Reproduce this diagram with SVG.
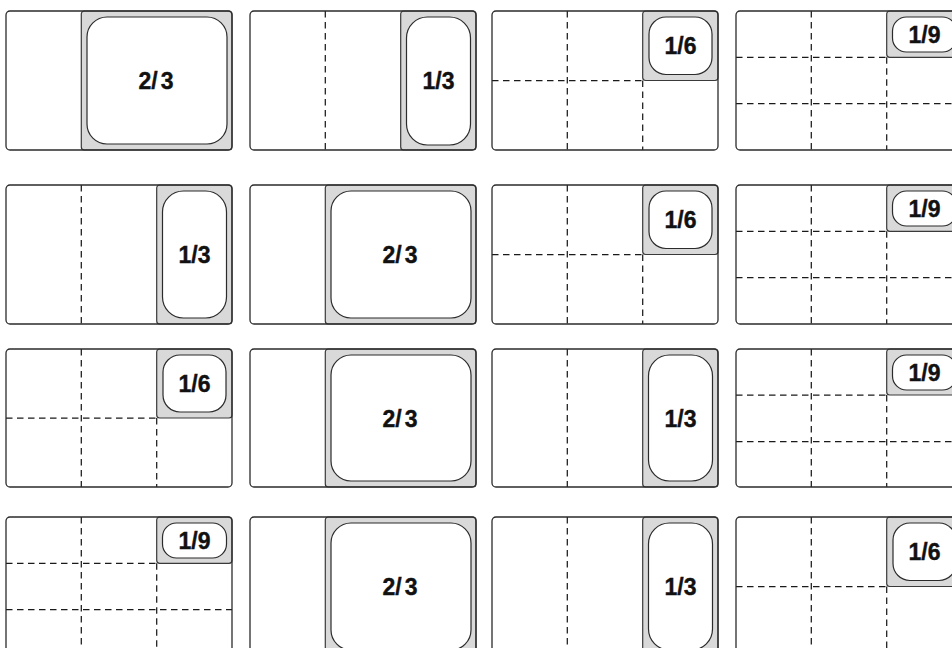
<svg xmlns="http://www.w3.org/2000/svg" width="952" height="648" viewBox="0 0 952 648">
<style>
.bg{fill:#fff}
.cell{fill:#fff;stroke:none}
.frame{fill:none;stroke:#2b2b2b;stroke-width:1.3}
.dash{fill:none;stroke:#1a1a1a;stroke-width:1.25;stroke-dasharray:6.5 4.5}
.pan{fill:#d9d9d9;stroke:#3a3a3a;stroke-width:1.2}
.well{fill:#fff;stroke:#2b2b2b;stroke-width:1.2}
.lbl{font-family:"Liberation Sans",Arial,sans-serif;font-weight:bold;font-size:23px;fill:#111;stroke:#111;stroke-width:0.4;text-anchor:middle}
</style>
<rect class="bg" width="952" height="648"/>

<!-- Row 1 -->
<g id="r1c1" transform="translate(6,11)">
 <rect class="cell" width="226" height="139" rx="4"/>
 <rect class="pan" x="75.3" width="150.7" height="139" rx="3"/>
 <rect class="well" x="81" y="6" width="140" height="127" rx="20"/>
 <text class="lbl" x="150" y="78">2/<tspan dx="3">3</tspan></text>
 <rect class="frame" width="226" height="139" rx="4"/>
</g>
<g id="r1c2" transform="translate(250,11)">
 <rect class="cell" width="226" height="139" rx="4"/>
 <line class="dash" x1="75.3" y1="0" x2="75.3" y2="139"/>
 <rect class="pan" x="150.7" width="75.3" height="139" rx="3"/>
 <rect class="well" x="156.5" y="6" width="64" height="128" rx="21"/>
 <text class="lbl" x="188.5" y="78">1/3</text>
 <rect class="frame" width="226" height="139" rx="4"/>
</g>
<g id="r1c3" transform="translate(492,11)">
 <rect class="cell" width="226" height="139" rx="4"/>
 <line class="dash" x1="75.3" y1="0" x2="75.3" y2="139"/>
 <line class="dash" x1="150.7" y1="69.5" x2="150.7" y2="139"/>
 <line class="dash" x1="0" y1="69.5" x2="150.7" y2="69.5"/>
 <rect class="pan" x="150.7" width="75.3" height="69.5" rx="3"/>
 <rect class="well" x="157" y="6" width="63" height="57.5" rx="17"/>
 <text class="lbl" x="188.5" y="43">1/6</text>
 <rect class="frame" width="226" height="139" rx="4"/>
</g>
<g id="r1c4" transform="translate(736,11)">
 <rect class="cell" width="226" height="139" rx="4"/>
 <line class="dash" x1="75.3" y1="0" x2="75.3" y2="139"/>
 <line class="dash" x1="150.7" y1="46.3" x2="150.7" y2="139"/>
 <line class="dash" x1="0" y1="46.3" x2="150.7" y2="46.3"/>
 <line class="dash" x1="0" y1="92.7" x2="226" y2="92.7"/>
 <rect class="pan" x="150.7" width="75.3" height="46.3" rx="3"/>
 <rect class="well" x="156.5" y="6" width="64" height="35" rx="14"/>
 <text class="lbl" x="188.5" y="32">1/9</text>
 <rect class="frame" width="226" height="139" rx="4"/>
</g>

<!-- Row 2 -->
<g id="r2c1" transform="translate(6,185)">
 <rect class="cell" width="226" height="139" rx="4"/>
 <line class="dash" x1="75.3" y1="0" x2="75.3" y2="139"/>
 <rect class="pan" x="150.7" width="75.3" height="139" rx="3"/>
 <rect class="well" x="156.5" y="6" width="64" height="127" rx="21"/>
 <text class="lbl" x="188.5" y="78">1/3</text>
 <rect class="frame" width="226" height="139" rx="4"/>
</g>
<g id="r2c2" transform="translate(250,185)">
 <rect class="cell" width="226" height="139" rx="4"/>
 <rect class="pan" x="75.3" width="150.7" height="139" rx="3"/>
 <rect class="well" x="81" y="6" width="140" height="127" rx="20"/>
 <text class="lbl" x="150" y="78">2/<tspan dx="3">3</tspan></text>
 <rect class="frame" width="226" height="139" rx="4"/>
</g>
<g id="r2c3" transform="translate(492,185)">
 <rect class="cell" width="226" height="139" rx="4"/>
 <line class="dash" x1="75.3" y1="0" x2="75.3" y2="139"/>
 <line class="dash" x1="150.7" y1="69.5" x2="150.7" y2="139"/>
 <line class="dash" x1="0" y1="69.5" x2="150.7" y2="69.5"/>
 <rect class="pan" x="150.7" width="75.3" height="69.5" rx="3"/>
 <rect class="well" x="157" y="6" width="63" height="57.5" rx="17"/>
 <text class="lbl" x="188.5" y="43">1/6</text>
 <rect class="frame" width="226" height="139" rx="4"/>
</g>
<g id="r2c4" transform="translate(736,185)">
 <rect class="cell" width="226" height="139" rx="4"/>
 <line class="dash" x1="75.3" y1="0" x2="75.3" y2="139"/>
 <line class="dash" x1="150.7" y1="46.3" x2="150.7" y2="139"/>
 <line class="dash" x1="0" y1="46.3" x2="150.7" y2="46.3"/>
 <line class="dash" x1="0" y1="92.7" x2="226" y2="92.7"/>
 <rect class="pan" x="150.7" width="75.3" height="46.3" rx="3"/>
 <rect class="well" x="156.5" y="6" width="64" height="35" rx="14"/>
 <text class="lbl" x="188.5" y="32">1/9</text>
 <rect class="frame" width="226" height="139" rx="4"/>
</g>

<!-- Row 3 -->
<g id="r3c1" transform="translate(6,349)">
 <rect class="cell" width="226" height="138" rx="4"/>
 <line class="dash" x1="75.3" y1="0" x2="75.3" y2="138"/>
 <line class="dash" x1="150.7" y1="69" x2="150.7" y2="138"/>
 <line class="dash" x1="0" y1="69" x2="150.7" y2="69"/>
 <rect class="pan" x="150.7" width="75.3" height="69" rx="3"/>
 <rect class="well" x="157" y="6" width="63" height="57" rx="17"/>
 <text class="lbl" x="188.5" y="43">1/6</text>
 <rect class="frame" width="226" height="138" rx="4"/>
</g>
<g id="r3c2" transform="translate(250,349)">
 <rect class="cell" width="226" height="138" rx="4"/>
 <rect class="pan" x="75.3" width="150.7" height="138" rx="3"/>
 <rect class="well" x="81" y="6" width="140" height="126" rx="20"/>
 <text class="lbl" x="150" y="77.5">2/<tspan dx="3">3</tspan></text>
 <rect class="frame" width="226" height="138" rx="4"/>
</g>
<g id="r3c3" transform="translate(492,349)">
 <rect class="cell" width="226" height="138" rx="4"/>
 <line class="dash" x1="75.3" y1="0" x2="75.3" y2="138"/>
 <rect class="pan" x="150.7" width="75.3" height="138" rx="3"/>
 <rect class="well" x="156.5" y="6" width="64" height="126" rx="21"/>
 <text class="lbl" x="188.5" y="77.5">1/3</text>
 <rect class="frame" width="226" height="138" rx="4"/>
</g>
<g id="r3c4" transform="translate(736,349)">
 <rect class="cell" width="226" height="138" rx="4"/>
 <line class="dash" x1="75.3" y1="0" x2="75.3" y2="138"/>
 <line class="dash" x1="150.7" y1="46" x2="150.7" y2="138"/>
 <line class="dash" x1="0" y1="46" x2="150.7" y2="46"/>
 <line class="dash" x1="0" y1="92.5" x2="226" y2="92.5"/>
 <rect class="pan" x="150.7" width="75.3" height="46" rx="3"/>
 <rect class="well" x="156.5" y="6" width="64" height="35" rx="14"/>
 <text class="lbl" x="188.5" y="32">1/9</text>
 <rect class="frame" width="226" height="138" rx="4"/>
</g>

<!-- Row 4 -->
<g id="r4c1" transform="translate(6,517)">
 <rect class="cell" width="226" height="139" rx="4"/>
 <line class="dash" x1="75.3" y1="0" x2="75.3" y2="139"/>
 <line class="dash" x1="150.7" y1="46.3" x2="150.7" y2="139"/>
 <line class="dash" x1="0" y1="46.3" x2="150.7" y2="46.3"/>
 <line class="dash" x1="0" y1="92.7" x2="226" y2="92.7"/>
 <rect class="pan" x="150.7" width="75.3" height="46.3" rx="3"/>
 <rect class="well" x="156.5" y="6" width="64" height="35" rx="14"/>
 <text class="lbl" x="188.5" y="32">1/9</text>
 <rect class="frame" width="226" height="139" rx="4"/>
</g>
<g id="r4c2" transform="translate(250,517)">
 <rect class="cell" width="226" height="139" rx="4"/>
 <rect class="pan" x="75.3" width="150.7" height="139" rx="3"/>
 <rect class="well" x="81" y="6" width="140" height="127" rx="20"/>
 <text class="lbl" x="150" y="78">2/<tspan dx="3">3</tspan></text>
 <rect class="frame" width="226" height="139" rx="4"/>
</g>
<g id="r4c3" transform="translate(492,517)">
 <rect class="cell" width="226" height="139" rx="4"/>
 <line class="dash" x1="75.3" y1="0" x2="75.3" y2="139"/>
 <rect class="pan" x="150.7" width="75.3" height="139" rx="3"/>
 <rect class="well" x="156.5" y="6" width="64" height="127" rx="21"/>
 <text class="lbl" x="188.5" y="78">1/3</text>
 <rect class="frame" width="226" height="139" rx="4"/>
</g>
<g id="r4c4" transform="translate(736,517)">
 <rect class="cell" width="226" height="139" rx="4"/>
 <line class="dash" x1="75.3" y1="0" x2="75.3" y2="139"/>
 <line class="dash" x1="150.7" y1="69.5" x2="150.7" y2="139"/>
 <line class="dash" x1="0" y1="69.5" x2="150.7" y2="69.5"/>
 <rect class="pan" x="150.7" width="75.3" height="69.5" rx="3"/>
 <rect class="well" x="157" y="6" width="63" height="57.5" rx="17"/>
 <text class="lbl" x="188.5" y="43">1/6</text>
 <rect class="frame" width="226" height="139" rx="4"/>
</g>

<g id="connectors"/>
</svg>
